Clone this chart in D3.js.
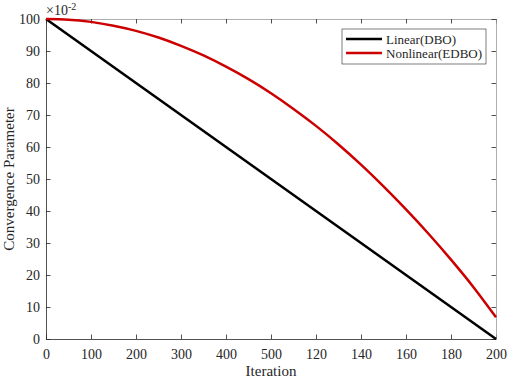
<!DOCTYPE html>
<html>
<head>
<meta charset="utf-8">
<script src="https://cdn.jsdelivr.net/npm/d3@7"></script>
<style>
  body { margin: 0; background: #fff; }
  svg text { font-family: "Liberation Serif", "Times New Roman", serif; fill: #262626; }
</style>
</head>
<body>
<div id="chart-area"></div>
<script>
// Data
const iterations = [0, 10, 20, 30, 40, 50, 60, 70, 80, 90, 100, 110, 120, 130, 140, 150, 160, 170, 180, 190, 200]
const nonlinearValues = [100, 99.8, 99.1, 97.9, 96.3, 94.2, 91.6, 88.6, 85.1, 81.2, 76.8, 71.9, 66.6, 60.8, 54.5, 47.7, 40.5, 32.9, 24.8, 16.2, 6.8]
const linearIterations = [0, 200]
const linearValues = [100, 0]
const xTickValues = [0, 20, 40, 60, 80, 100, 120, 140, 160, 180, 200]
const xTickLabels = ["0", "100", "200", "300", "400", "500", "120", "140", "160", "180", "200"]
const yTickValues = [0, 10, 20, 30, 40, 50, 60, 70, 80, 90, 100]
const seriesNames = ["Linear(DBO)", "Nonlinear(EDBO)"]
const seriesColors = ["#000000", "#cc0000"]

// Set up margins
const MARGINS = { TOP: 19, BOTTOM: 40, LEFT: 46, RIGHT: 12 }
const WIDTH = 508 - MARGINS.LEFT - MARGINS.RIGHT
const HEIGHT = 379 - MARGINS.TOP - MARGINS.BOTTOM

const svg = d3.select("#chart-area").append("svg")
	.attr("width", 508)
	.attr("height", 379)

const g = svg.append("g")
	.attr("transform", `translate(${MARGINS.LEFT}, ${MARGINS.TOP})`)

// Scales
const x = d3.scaleLinear()
	.domain([0, 200])
	.range([0, WIDTH])

const y = d3.scaleLinear()
	.domain([0, 100])
	.range([HEIGHT, 0])

const axisColor = "#262626"
const TICK = 4.5

// Bottom axis
const xAxisCall = d3.axisBottom(x)
	.tickValues(xTickValues)
	.tickSizeInner(-TICK)
	.tickSizeOuter(0)
	.tickPadding(10)
	.tickFormat((d, i) => xTickLabels[i])
const xAxis = g.append("g")
	.attr("transform", `translate(0, ${HEIGHT})`)
	.call(xAxisCall)

// Left axis
const yAxisCall = d3.axisLeft(y)
	.tickValues(yTickValues)
	.tickSizeInner(-TICK)
	.tickSizeOuter(0)
	.tickPadding(6)
const yAxis = g.append("g")
	.call(yAxisCall)

// Top and right axes (ticks only)
const xTop = g.append("g")
	.call(d3.axisTop(x).tickValues(xTickValues).tickSizeInner(-TICK).tickSizeOuter(0).tickFormat(""))
const yRight = g.append("g")
	.attr("transform", `translate(${WIDTH}, 0)`)
	.call(d3.axisRight(y).tickValues(yTickValues).tickSizeInner(-TICK).tickSizeOuter(0).tickFormat(""))

;[xAxis, yAxis, xTop, yRight].forEach(a => {
	a.attr("font-family", null)
	a.select(".domain").attr("stroke", axisColor).attr("stroke-width", 0.8)
	a.selectAll(".tick line").attr("stroke", axisColor).attr("stroke-width", 0.8)
	a.selectAll("text")
		.attr("font-size", "14px")
		.attr("fill", axisColor)
})
xTop.select(".domain").attr("stroke", "#9a9a9a")
yRight.select(".domain").attr("stroke", "#9a9a9a")

// Exponent label
const expLabel = g.append("text")
	.attr("x", 0)
	.attr("y", -4)
	.attr("font-size", "14px")
expLabel.append("tspan").text("\u00d710")
expLabel.append("tspan")
	.attr("dy", -5)
	.attr("font-size", "10px")
	.text("-2")

// Lines
const line = d3.line()
	.x(d => x(d[0]))
	.y(d => y(d[1]))

g.append("path")
	.datum(linearIterations.map((it, i) => [it, linearValues[i]]))
	.attr("fill", "none")
	.attr("stroke", seriesColors[0])
	.attr("stroke-width", 2.5)
	.attr("d", line)

g.append("path")
	.datum(iterations.map((it, i) => [it, nonlinearValues[i]]))
	.attr("fill", "none")
	.attr("stroke", seriesColors[1])
	.attr("stroke-width", 2.5)
	.attr("d", line.curve(d3.curveMonotoneX))

// Axis labels
g.append("text")
	.attr("x", WIDTH / 2)
	.attr("y", HEIGHT + 37)
	.attr("font-size", "15px")
	.attr("text-anchor", "middle")
	.text("Iteration")

g.append("text")
	.attr("transform", "rotate(-90)")
	.attr("x", -HEIGHT / 2)
	.attr("y", -32)
	.attr("font-size", "15px")
	.attr("text-anchor", "middle")
	.text("Convergence Parameter")

// Legend
const legend = g.append("g")
	.attr("transform", `translate(${WIDTH - 154}, 10)`)

legend.append("rect")
	.attr("width", 144)
	.attr("height", 35)
	.attr("fill", "#fff")
	.attr("stroke", "#262626")
	.attr("stroke-width", 0.6)

seriesNames.forEach((name, i) => {
	const row = legend.append("g")
		.attr("transform", `translate(0, ${10 + i * 14})`)
	row.append("line")
		.attr("x1", 4)
		.attr("x2", 40)
		.attr("stroke", seriesColors[i])
		.attr("stroke-width", 2.5)
	row.append("text")
		.attr("x", 44)
		.attr("y", 4.5)
		.attr("font-size", "13px")
		.text(name)
})
</script>
</body>
</html>
